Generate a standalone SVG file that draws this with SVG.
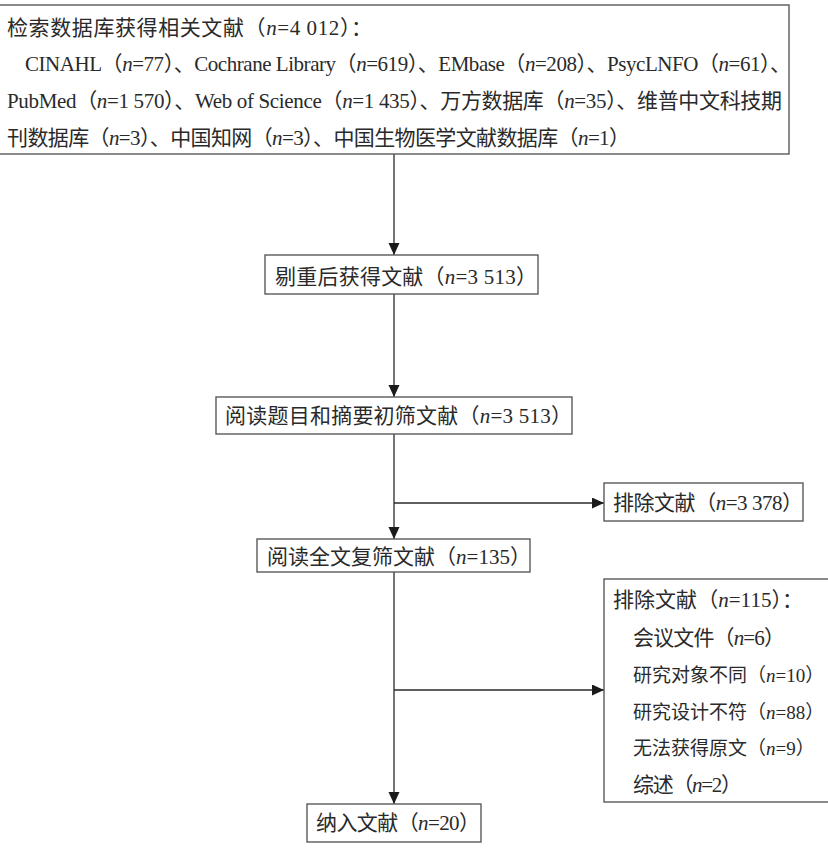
<svg xmlns="http://www.w3.org/2000/svg" width="828" height="849" viewBox="0 0 828 849">
<style>
.box{fill:#fff;stroke:#5a5a5a;stroke-width:1.4}
.t{font-family:"Liberation Serif","Noto Sans CJK SC",serif;font-size:21px;fill:#2a2a2a}
.s{font-size:19px}
.i{font-style:italic}
.c{stroke:#2a2a2a;stroke-width:1.3;fill:none}
</style>
<defs>
<marker id="ah" markerUnits="userSpaceOnUse" markerWidth="12" markerHeight="12" refX="12" refY="5.5" orient="auto">
<path d="M0,0 L12,5.5 L0,11 Z" fill="#1a1a1a"/>
</marker>
</defs>
<rect width="828" height="849" fill="#fff"/>
<g id="connectors">
<line class="c" x1="394" y1="154" x2="394" y2="255" marker-end="url(#ah)"/>
<line class="c" x1="394" y1="294" x2="394" y2="397" marker-end="url(#ah)"/>
<line class="c" x1="394" y1="434" x2="394" y2="539" marker-end="url(#ah)"/>
<line class="c" x1="394" y1="503" x2="604" y2="503" marker-end="url(#ah)"/>
<line class="c" x1="394" y1="572" x2="394" y2="804" marker-end="url(#ah)"/>
<line class="c" x1="394" y1="690" x2="604" y2="690" marker-end="url(#ah)"/>
</g>
<g id="n1">
<rect class="box" x="-2" y="5" width="791" height="149"/>
<text class="t" x="7" y="35" textLength="365" lengthAdjust="spacing">检索数据库获得相关文献（<tspan class="i">n</tspan>=4 012）：</text>
<text class="t" x="25" y="71" textLength="766" lengthAdjust="spacing">CINAHL（<tspan class="i">n</tspan>=77）、Cochrane Library（<tspan class="i">n</tspan>=619）、EMbase（<tspan class="i">n</tspan>=208）、PsycLNFO（<tspan class="i">n</tspan>=61）、</text>
<text class="t" x="7" y="108" textLength="775" lengthAdjust="spacing">PubMed（<tspan class="i">n</tspan>=1 570）、Web of Science（<tspan class="i">n</tspan>=1 435）、万方数据库（<tspan class="i">n</tspan>=35）、维普中文科技期</text>
<text class="t" x="7" y="145" textLength="623" lengthAdjust="spacing">刊数据库（<tspan class="i">n</tspan>=3）、中国知网（<tspan class="i">n</tspan>=3）、中国生物医学文献数据库（<tspan class="i">n</tspan>=1）</text>
</g>
<g id="n2">
<rect class="box" x="265" y="255" width="273" height="39"/>
<text class="t" x="275" y="284" textLength="262" lengthAdjust="spacing">剔重后获得文献（<tspan class="i">n</tspan>=3 513）</text>
</g>
<g id="n3">
<rect class="box" x="216" y="397" width="356" height="37"/>
<text class="t" x="225" y="423" textLength="347" lengthAdjust="spacing">阅读题目和摘要初筛文献（<tspan class="i">n</tspan>=3 513）</text>
</g>
<g id="n4">
<rect class="box" x="604" y="483" width="199" height="38"/>
<text class="t" x="613" y="510" textLength="190" lengthAdjust="spacing">排除文献（<tspan class="i">n</tspan>=3 378）</text>
</g>
<g id="n5">
<rect class="box" x="257" y="539" width="273" height="33"/>
<text class="t" x="267" y="564" textLength="264" lengthAdjust="spacing">阅读全文复筛文献（<tspan class="i">n</tspan>=135）</text>
</g>
<g id="n6">
<rect class="box" x="604" y="579" width="240" height="223"/>
<text class="t" x="613" y="607" textLength="190" lengthAdjust="spacing">排除文献（<tspan class="i">n</tspan>=115）：</text>
<text class="t" x="633" y="645" textLength="152" lengthAdjust="spacing">会议文件（<tspan class="i">n</tspan>=6）</text>
<text class="t s" x="633" y="682">研究对象不同（<tspan class="i">n</tspan>=10）</text>
<text class="t s" x="633" y="719">研究设计不符（<tspan class="i">n</tspan>=88）</text>
<text class="t s" x="633" y="755">无法获得原文（<tspan class="i">n</tspan>=9）</text>
<text class="t" x="633" y="792" textLength="109" lengthAdjust="spacing">综述（<tspan class="i">n</tspan>=2）</text>
</g>
<g id="n7">
<rect class="box" x="307" y="804" width="174" height="38"/>
<text class="t" x="316" y="830" textLength="164" lengthAdjust="spacing">纳入文献（<tspan class="i">n</tspan>=20）</text>
</g>
</svg>
